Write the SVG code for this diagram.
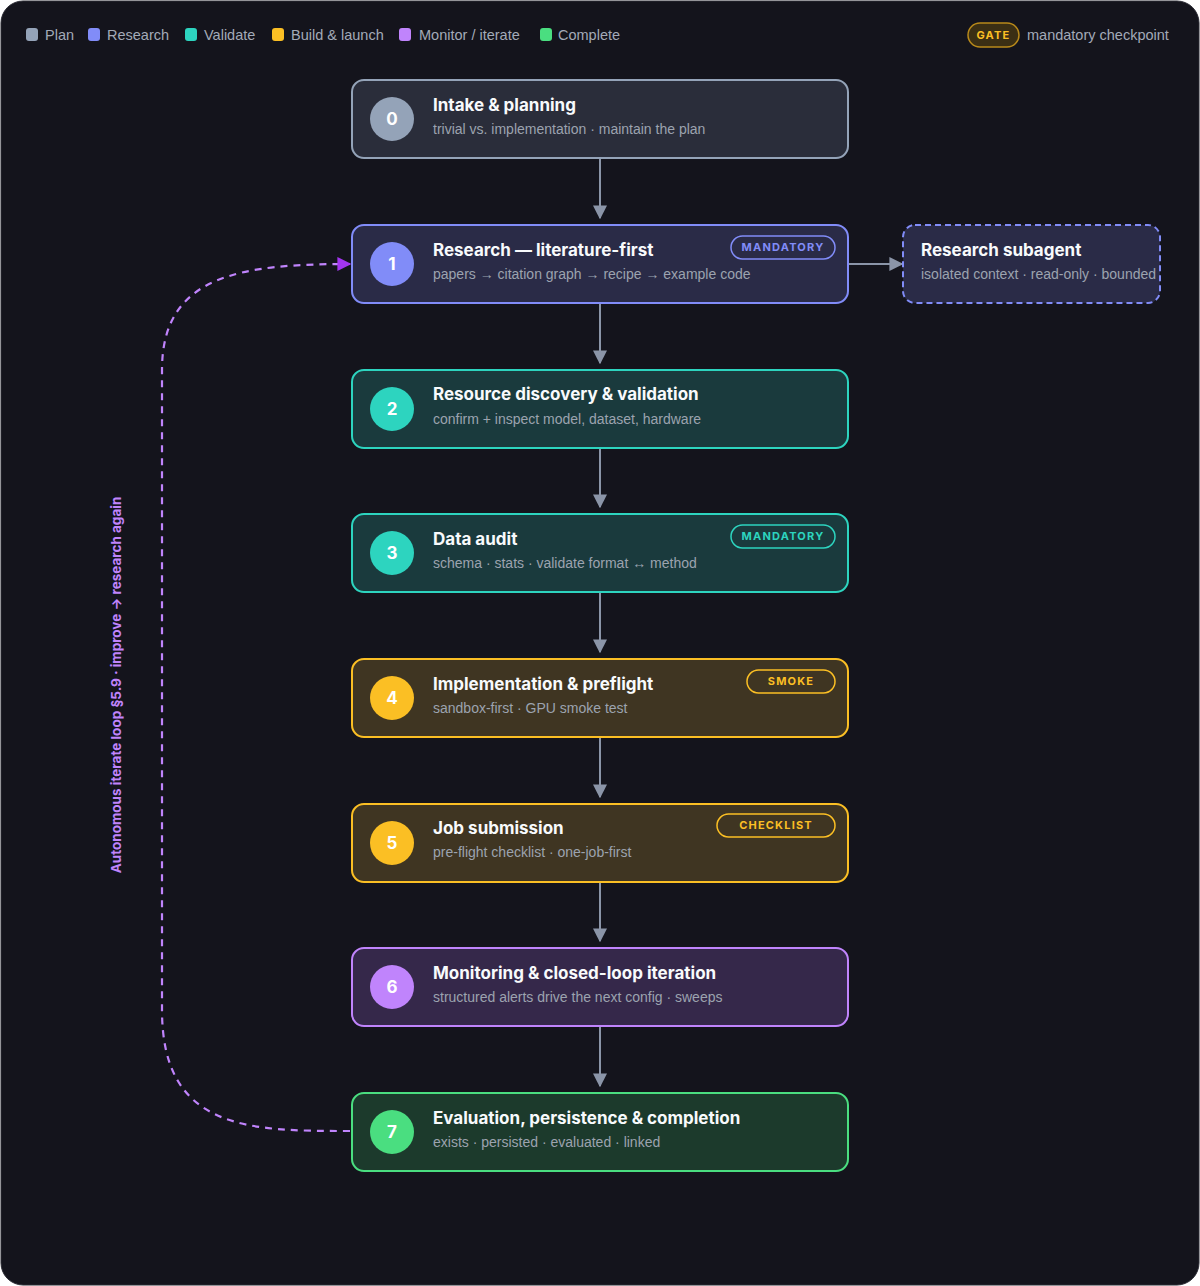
<svg xmlns="http://www.w3.org/2000/svg" width="1200" height="1286" viewBox="0 0 1200 1286">
<style>
text{font-family:Inter,"Liberation Sans",sans-serif}
.t{fill:#f8fafc;font-size:17px;font-weight:700}
.s{fill:#9ca3af;font-size:14px;font-family:"Liberation Sans",Arial,sans-serif}
.n{fill:#fff;font-size:17px;font-weight:700;text-anchor:middle}
.lg{fill:#a3aab8;font-size:14.5px;font-family:"Liberation Sans",Arial,sans-serif}
.b{font-size:11px;font-weight:700;letter-spacing:1.2px;text-anchor:middle}
.e{stroke:#8b95a8;stroke-width:2;fill:none}
</style>
<defs>
<marker id="ah" viewBox="0 0 10 10" refX="9" refY="5" markerWidth="14" markerHeight="14" markerUnits="userSpaceOnUse" orient="auto"><path d="M0,0L10,5L0,10z" fill="#8b95a8"/></marker>
<marker id="ap" viewBox="0 0 10 10" refX="9" refY="5" markerWidth="14" markerHeight="14" markerUnits="userSpaceOnUse" orient="auto"><path d="M0,0L10,5L0,10z" fill="#a335f0"/></marker>
</defs>
<rect x="1" y="1" width="1198" height="1284" rx="22" fill="#14141c" stroke="#2a2a33"/>
<g id="legend">
<rect x="26" y="28" width="12" height="13" rx="3" fill="#94a3b8"/><text class="lg" x="45" y="39.5">Plan</text>
<rect x="88" y="28" width="12" height="13" rx="3" fill="#818cf8"/><text class="lg" x="107" y="39.5">Research</text>
<rect x="185" y="28" width="12" height="13" rx="3" fill="#2dd4bf"/><text class="lg" x="204" y="39.5">Validate</text>
<rect x="272" y="28" width="12" height="13" rx="3" fill="#fbbf24"/><text class="lg" x="291" y="39.5">Build &amp; launch</text>
<rect x="399" y="28" width="12" height="13" rx="3" fill="#c084fc"/><text class="lg" x="419" y="39.5">Monitor / iterate</text>
<rect x="540" y="28" width="12" height="13" rx="3" fill="#4ade80"/><text class="lg" x="558" y="39.5">Complete</text>
<rect x="968" y="23" width="51" height="24" rx="12" fill="#3b2f14" stroke="#b8891a" stroke-width="1.5"/><text class="b" x="993.5" y="39" fill="#fbbf24">GATE</text>
<text class="lg" x="1027" y="39.5">mandatory checkpoint</text>
</g>
<g id="connectors">
<line class="e" x1="600" y1="159" x2="600" y2="218" marker-end="url(#ah)"/>
<line class="e" x1="600" y1="303" x2="600" y2="363" marker-end="url(#ah)"/>
<line class="e" x1="600" y1="448" x2="600" y2="507" marker-end="url(#ah)"/>
<line class="e" x1="600" y1="593" x2="600" y2="652" marker-end="url(#ah)"/>
<line class="e" x1="600" y1="738" x2="600" y2="797" marker-end="url(#ah)"/>
<line class="e" x1="600" y1="882" x2="600" y2="941" marker-end="url(#ah)"/>
<line class="e" x1="600" y1="1027" x2="600" y2="1086" marker-end="url(#ah)"/>
<line class="e" x1="849" y1="264" x2="902" y2="264" marker-end="url(#ah)"/>
<path d="M350,1131 C250,1131 162,1131 162,1010 L162,370 C162,275 240,264 350,264" fill="none" stroke="#c084fc" stroke-width="2.2" stroke-dasharray="7,6" marker-end="url(#ap)"/>
<text x="121" y="685" transform="rotate(-90 121 685)" text-anchor="middle" fill="#c084fc" font-size="13.5" font-weight="700" font-family="Liberation Sans, Arial, sans-serif">Autonomous iterate loop §5.9 · improve → research again</text>
</g>
<g id="n0"><rect x="352" y="80" width="496" height="78" rx="12" fill="#2a2d3a" stroke="#94a3b8" stroke-width="2"/><circle cx="392" cy="119" r="22" fill="#94a3b8"/><text class="n" x="392" y="125">0</text><text class="t" x="433" y="111">Intake &amp; planning</text><text class="s" x="433" y="134">trivial vs. implementation · maintain the plan</text></g>
<g id="n1"><rect x="352" y="225" width="496" height="78" rx="12" fill="#2a2b47" stroke="#818cf8" stroke-width="2"/><circle cx="392" cy="264" r="22" fill="#818cf8"/><text class="n" x="392" y="270">1</text><text class="t" x="433" y="256">Research — literature-first</text><text class="s" x="433" y="279">papers → citation graph → recipe → example code</text><rect x="731" y="236" width="104" height="23" rx="11.5" fill="none" stroke="#818cf8" stroke-width="1.5"/><text class="b" x="783" y="251" fill="#818cf8">MANDATORY</text></g>
<g id="sub"><rect x="903" y="225" width="257" height="78" rx="12" fill="#2a2b47" stroke="#818cf8" stroke-width="2" stroke-dasharray="6,4"/><text class="t" x="921" y="256" font-size="15.5">Research subagent</text><text class="s" x="921" y="279" font-size="13.5">isolated context · read-only · bounded</text></g>
<g id="n2"><rect x="352" y="370" width="496" height="78" rx="12" fill="#1a3a3d" stroke="#2dd4bf" stroke-width="2"/><circle cx="392" cy="409" r="22" fill="#2dd4bf"/><text class="n" x="392" y="415">2</text><text class="t" x="433" y="400">Resource discovery &amp; validation</text><text class="s" x="433" y="424">confirm + inspect model, dataset, hardware</text></g>
<g id="n3"><rect x="352" y="514" width="496" height="78" rx="12" fill="#1a3a3d" stroke="#2dd4bf" stroke-width="2"/><circle cx="392" cy="553" r="22" fill="#2dd4bf"/><text class="n" x="392" y="559">3</text><text class="t" x="433" y="545">Data audit</text><text class="s" x="433" y="568">schema · stats · validate format ↔ method</text><rect x="731" y="525" width="104" height="23" rx="11.5" fill="none" stroke="#2dd4bf" stroke-width="1.5"/><text class="b" x="783" y="540" fill="#2dd4bf">MANDATORY</text></g>
<g id="n4"><rect x="352" y="659" width="496" height="78" rx="12" fill="#3f3522" stroke="#fbbf24" stroke-width="2"/><circle cx="392" cy="698" r="22" fill="#fbbf24"/><text class="n" x="392" y="704">4</text><text class="t" x="433" y="690">Implementation &amp; preflight</text><text class="s" x="433" y="713">sandbox-first · GPU smoke test</text><rect x="747" y="670" width="88" height="23" rx="11.5" fill="none" stroke="#fbbf24" stroke-width="1.5"/><text class="b" x="791" y="685" fill="#fbbf24">SMOKE</text></g>
<g id="n5"><rect x="352" y="804" width="496" height="78" rx="12" fill="#3f3522" stroke="#fbbf24" stroke-width="2"/><circle cx="392" cy="843" r="22" fill="#fbbf24"/><text class="n" x="392" y="849">5</text><text class="t" x="433" y="834">Job submission</text><text class="s" x="433" y="857">pre-flight checklist · one-job-first</text><rect x="717" y="814" width="118" height="23" rx="11.5" fill="none" stroke="#fbbf24" stroke-width="1.5"/><text class="b" x="776" y="829" fill="#fbbf24">CHECKLIST</text></g>
<g id="n6"><rect x="352" y="948" width="496" height="78" rx="12" fill="#35284a" stroke="#c084fc" stroke-width="2"/><circle cx="392" cy="987" r="22" fill="#c084fc"/><text class="n" x="392" y="993">6</text><text class="t" x="433" y="979">Monitoring &amp; closed-loop iteration</text><text class="s" x="433" y="1002">structured alerts drive the next config · sweeps</text></g>
<g id="n7"><rect x="352" y="1093" width="496" height="78" rx="12" fill="#1c3a2c" stroke="#4ade80" stroke-width="2"/><circle cx="392" cy="1132" r="22" fill="#4ade80"/><text class="n" x="392" y="1138">7</text><text class="t" x="433" y="1124">Evaluation, persistence &amp; completion</text><text class="s" x="433" y="1147">exists · persisted · evaluated · linked</text></g>
</svg>
